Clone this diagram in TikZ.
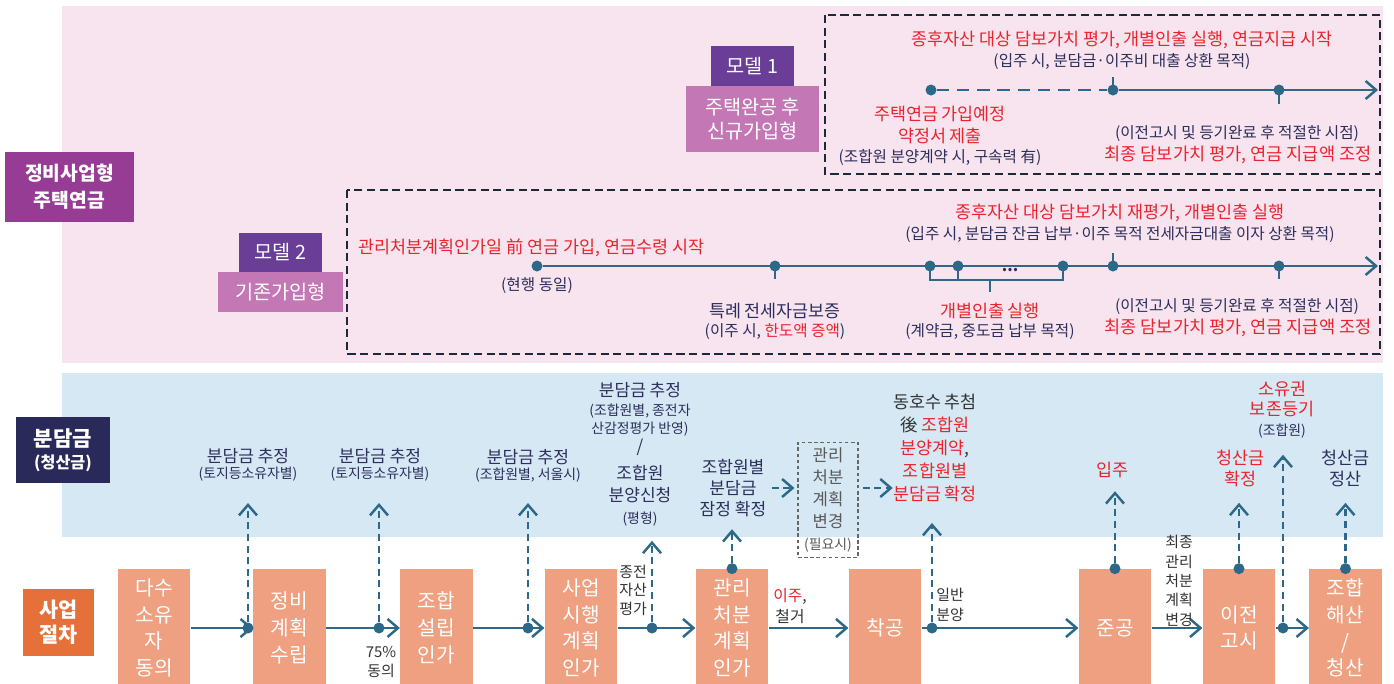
\documentclass[tikz,border=0pt]{standalone}
\usepackage{fontspec}
\setmainfont{Noto Sans CJK KR}
\usetikzlibrary{arrows.meta,positioning}
\definecolor{pinkbg}{HTML}{F7E4EF}
\definecolor{bluebg}{HTML}{D5E8F4}
\definecolor{plumlab}{HTML}{963C94}
\definecolor{modeldark}{HTML}{6A3D97}
\definecolor{modellight}{HTML}{C378B5}
\definecolor{navylab}{HTML}{29295A}
\definecolor{orangelab}{HTML}{E6703A}
\definecolor{salmonbox}{HTML}{EEA080}
\definecolor{lineblue}{HTML}{2D6888}
\definecolor{framecol}{HTML}{1D2838}
\definecolor{hotred}{HTML}{E9242E}
\definecolor{inkblue}{HTML}{2C2E5C}
\definecolor{graytxt}{HTML}{333333}
\newcommand{\fs}[2]{\fontsize{#1}{#2}\selectfont}
\newcommand{\hot}[1]{\textcolor{hotred}{#1}}

\begin{document}
\begin{tikzpicture}[x=0.2mm,y=-0.2mm,
  tline/.style={lineblue,line width=1.4pt},
  flowarrow/.style={lineblue,line width=1.4pt,-{Straight Barb[length=2.1mm,width=3.6mm]}},
  riser/.style={lineblue,line width=1.4pt,dash pattern=on 4pt off 2.6pt,-{Straight Barb[length=2.1mm,width=3.6mm]}},
  mdot/.style={circle,fill=lineblue,inner sep=0pt,minimum size=2.2mm},
  dashframe/.style={framecol,line width=1.6pt,dash pattern=on 4.6pt off 2.6pt},
  sidelab/.style={text=white,align=center,inner sep=0pt},
  modelbox/.style={text=white,align=center,inner sep=0pt,font=\fs{11.2}{13.6}},
  procbox/.style={fill=salmonbox,text=white,align=center,inner sep=0pt,
    minimum width=14.5mm,minimum height=23.6mm,font=\fs{11.5}{15.2}},
  redhead/.style={text=hotred,align=center,inner sep=0pt,font=\fs{9.9}{12.5}},
  paren/.style={text=inkblue,align=center,inner sep=0pt,font=\fs{8.9}{11}},
  bluetxt/.style={text=inkblue,align=center,inner sep=0pt,font=\fs{9.7}{12}},
  linelab/.style={text=graytxt,align=center,inner sep=0pt,font=\fs{8.5}{11}}]
\useasboundingbox (0,0) rectangle (1394,683);
\fill[pinkbg] (62,6) rectangle (1383,363);
\fill[bluebg] (62,373) rectangle (1383,537);

\node[sidelab,fill=plumlab,minimum width=25.8mm,minimum height=14mm,font=\bfseries\fs{11}{15.3}] (pension) at (69.5,187) {정비사업형\\주택연금};
\node[sidelab,fill=navylab,minimum width=18.8mm,minimum height=13.2mm,font=\bfseries\fs{9.2}{12.4}] (share) at (63,450) {{\fs{12}{13}분담금}\\(청산금)};
\node[sidelab,fill=orangelab,minimum width=14.2mm,minimum height=13.4mm,font=\bfseries\fs{11.8}{14.2}] (proc) at (58.5,622.5) {사업\\절차};

% model 1
\node[modelbox,fill=modeldark,minimum width=16.6mm,minimum height=8mm] (m1) at (752.5,66) {모델 1};
\node[modelbox,fill=modellight,minimum width=26.6mm,minimum height=13.2mm] (m1t) at (752.5,119) {주택완공 후\\신규가입형};
\draw[dashframe] (825,15) rectangle (1380,174);
\node[mdot] (a1) at (931,90) {};
\node[mdot] (a2) at (1113,90) {};
\node[mdot] (a3) at (1279,90) {};
\coordinate (a4) at (1378,90);
\draw[tline,dash pattern=on 7pt off 4.5pt] (a1) -- (a2);
\draw[tline,-{Straight Barb[length=2.1mm,width=3.6mm]}] (a2) -- (a4);
\draw[tline] (a2.center) -- ++(0,-13);
\draw[tline] (a3.center) -- ++(0,14);
\node[redhead] (h1) at (1122,40) {종후자산 대상 담보가치 평가, 개별인출 실행, 연금지급 시작};
\node[paren] (h1n) at (1122,62) {(입주 시, 분담금·이주비 대출 상환 목적)};
\node[redhead] (j1) at (940,125) {주택연금 가입예정\\약정서 제출};
\node[paren] (j1n) at (940,157) {(조합원 분양계약 시, 구속력 有)};
\node[paren] (f1n) at (1237,134) {(이전고시 및 등기완료 후 적절한 시점)};
\node[redhead,font=\fs{10}{12}] (f1) at (1238,155) {최종 담보가치 평가, 연금 지급액 조정};

% model 2
\node[modelbox,fill=modeldark,minimum width=16.6mm,minimum height=7.8mm] (m2) at (280.5,252.5) {모델 2};
\node[modelbox,fill=modellight,minimum width=25mm,minimum height=8mm] (m2t) at (280.5,292) {기존가입형};
\draw[dashframe] (347,190) rectangle (1380,354);
\node[mdot] (b1) at (537,266) {};
\node[mdot] (b2) at (775,266) {};
\node[mdot] (b3) at (930,266) {};
\node[mdot] (b4) at (958,266) {};
\node[mdot] (b5) at (1063,266) {};
\node[mdot] (b6) at (1113,266) {};
\node[mdot] (b7) at (1279,266) {};
\coordinate (b8) at (1378,266);
\coordinate (brace) at (990,280);
\draw[tline,-{Straight Barb[length=2.1mm,width=3.6mm]}] (b1) -- (b8);
\draw[tline] (b2.center) -- ++(0,13);
\draw[tline] (b6.center) -- ++(0,-13);
\draw[tline] (b7.center) -- ++(0,13);
\draw[tline] (b3.center) |- (brace) -| (b5.center);
\draw[tline] (b4.center) -- (b4 |- brace);
\draw[tline] (brace) -- ++(0,12);
\node[paren,font=\bfseries\fs{8.9}{11}] (gap) at (1010,270) {...};
\node[redhead,anchor=west] (g1) at (358,248) {관리처분계획인가일 前 연금 가입, 연금수령 시작};
\node[paren] (g1n) at (537,286) {(현행 동일)};
\node[redhead,text=inkblue] (g2) at (775,311) {특례 전세자금보증};
\node[paren] (g2n) at (775,332) {(이주 시, \hot{한도액 증액})};
\node[redhead] (g3) at (990,311) {개별인출 실행};
\node[paren] (g3n) at (990,332) {(계약금, 중도금 납부 목적)};
\node[redhead] (g4) at (1120,213) {종후자산 대상 담보가치 재평가, 개별인출 실행};
\node[paren] (g4n) at (1120,235) {(입주 시, 분담금 잔금 납부·이주 목적 전세자금대출 이자 상환 목적)};
\node[paren] (g5n) at (1237,307) {(이전고시 및 등기완료 후 적절한 시점)};
\node[redhead,font=\fs{10}{12}] (g5) at (1238,328) {최종 담보가치 평가, 연금 지급액 조정};

% process row
\node[procbox] (p1) at (154,628) {다수\\소유\\자\\동의};
\node[procbox] (p2) at (289.5,628) {정비\\계획\\수립};
\node[procbox] (p3) at (436.5,628) {조합\\설립\\인가};
\node[procbox] (p4) at (581,628) {사업\\시행\\계획\\인가};
\node[procbox] (p5) at (732,628) {관리\\처분\\계획\\인가};
\node[procbox] (p6) at (885,628) {착공};
\node[procbox] (p7) at (1115,628) {준공};
\node[procbox] (p8) at (1239,628) {이전\\고시};
\node[procbox] (p9) at (1345.5,628) {조합\\해산\\/\\청산};
\draw[flowarrow] (p1) -- (p2);
\draw[flowarrow] (p2) -- (p3);
\draw[flowarrow] (p3) -- (p4);
\draw[flowarrow] (p4) -- (p5);
\draw[flowarrow] (p5) -- (p6);
\draw[flowarrow] (p6) -- (p7);
\draw[flowarrow] (p7) -- (p8);
\draw[flowarrow] (p8) -- (p9);
\node[mdot] (d1) at (248,628) {};
\node[mdot] (d2) at (379,628) {};
\node[mdot] (d3) at (528,628) {};
\node[mdot] (d4) at (652,628) {};
\node[mdot] (d6) at (932,628) {};
\node[mdot] (d8) at (1283,628) {};
\node[mdot] (e5) at (p5.north) {};
\node[mdot] (e7) at (p7.north) {};
\node[mdot] (e8) at (p8.north) {};
\node[mdot] (e9) at (p9.north) {};
\node[linelab,font=\fs{8.5}{11.3}] (l2) at (381,662) {75\%\\동의};
\node[linelab,font=\fs{8.5}{10.5}] (l4) at (633,590) {종전\\자산\\평가};
\node[linelab,font=\fs{9}{12}] (l5) at (790,606) {\hot{이주},\\철거};
\node[linelab,font=\fs{8.5}{11.3}] (l6) at (950,605) {일반\\분양};
\node[linelab] (l7) at (1179,581) {최종\\관리\\처분\\계획\\변경};

% share row
\node[bluetxt,font=\fs{9.7}{9.4}] (q1) at (248,465) {분담금 추정\\{\fs{7.9}{9}(토지등소유자별)}};
\node[bluetxt,font=\fs{9.7}{9.4}] (q2) at (380,465) {분담금 추정\\{\fs{7.9}{9}(토지등소유자별)}};
\node[bluetxt,font=\fs{9.7}{9.4}] (q3) at (528,466) {분담금 추정\\{\fs{7.9}{9}(조합원별, 서울시)}};
\node[bluetxt,font=\fs{9.7}{10.5}] (q4a) at (640,419) {분담금 추정\\{\fs{7.9}{9}(조합원별, 종전자}\\{\fs{7.9}{9}산감정평가 반영)}\\/};
\node[bluetxt,font=\fs{9.7}{12.5}] (q4b) at (640,496) {조합원\\분양신청\\{\fs{7.9}{9}(평형)}};
\node[bluetxt] (q5) at (733,488) {조합원별\\분담금\\잠정 확정};
\node[draw=gray!80!black,dash pattern=on 2pt off 1.5pt,line width=0.6pt,text=gray!70!black,align=center,
  minimum width=12mm,minimum height=23mm,inner sep=0pt,font=\fs{9.5}{12.4}] (chg) at (828,500) {관리\\처분\\계획\\변경\\{\fs{7.9}{9}(필요시)}};
\node[bluetxt,font=\fs{9.9}{13}] (q6) at (935,448) {\textcolor{graytxt}{동호수 추첨}\\\textcolor{graytxt}{後} \hot{조합원}\\\hot{분양계약}\textcolor{graytxt}{,}\\\hot{조합원별}\\\hot{분담금 확정}};
\node[redhead] (q7) at (1112,470) {입주};
\node[redhead,font=\fs{9.9}{12}] (q8) at (1240,468) {청산금\\확정};
\node[redhead,font=\fs{9.9}{11.3}] (q9) at (1282,410) {소유권\\보존등기\\\textcolor{inkblue}{\fs{7.9}{9}(조합원)}};
\node[bluetxt,font=\fs{9.9}{12}] (q10) at (1345,468) {청산금\\정산};
\draw[riser,shorten >=4.2mm] (d1) -- (d1 |- q1.south);
\draw[riser,shorten >=4.2mm] (d2) -- (d2 |- q2.south);
\draw[riser,shorten >=4mm] (d3) -- (d3 |- q3.south);
\draw[riser,shorten >=2.8mm] (d4) -- (d4 |- q4b.south);
\draw[riser,shorten >=2.4mm] (e5) -- (e5 |- q5.south);
\draw[riser,shorten >=4.2mm] (d6) -- (d6 |- q6.south);
\draw[riser,shorten >=2.6mm] (e7) -- (e7 |- q7.south);
\draw[riser,shorten >=3.2mm] (e8) -- (e8 |- q8.south);
\draw[riser,shorten >=3.2mm] (d8) -- (d8 |- q9.south);
\draw[riser,shorten >=3.2mm] (e9) -- (e9 |- q10.south);
\draw[riser,shorten <=1mm,shorten >=0.6mm] (q5) -- (q5 -| chg.west);
\draw[riser,shorten <=0.8mm] (chg.east |- q5) -- (q6.west |- q5);
\end{tikzpicture}
\end{document}
